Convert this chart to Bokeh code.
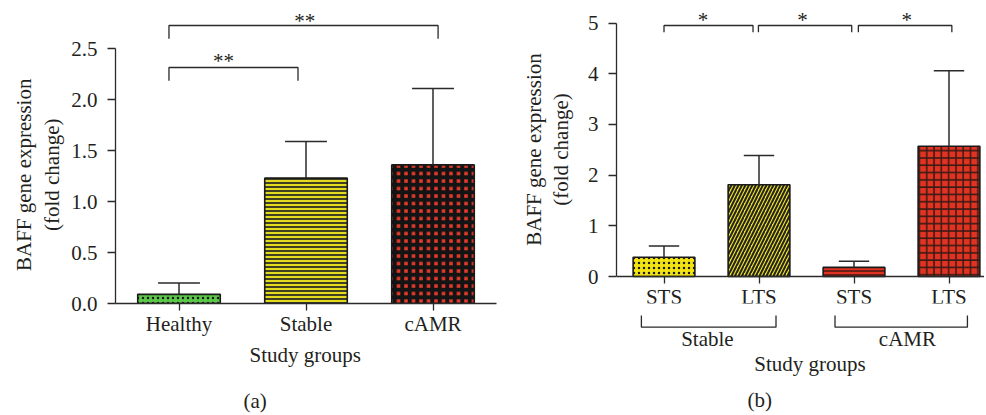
import numpy as np
from bokeh.plotting import figure
from bokeh.models import Range1d, FixedTicker, PrintfTickFormatter
from bokeh.layouts import row
from bokeh.embed import file_html
from bokeh.resources import INLINE
from bokeh.core.properties import value

FONT = "Liberation Serif"
TXT = "#231f20"
AX = "#2a2a2a"

# ---------------- data: panel (a) ----------------
groups_a = ["Healthy", "Stable", "cAMR"]
mean_a = [0.09, 1.23, 1.36]
err_a = [0.11, 0.36, 0.75]
yticks_a = [0.0, 0.5, 1.0, 1.5, 2.0, 2.5]
sig_pairs_a = [(0, 1), (0, 2)]
sig_text_a = ["**", "**"]

# ---------------- data: panel (b) ----------------
sub_b = ["STS", "LTS", "STS", "LTS"]
group_b = ["Stable", "Stable", "cAMR", "cAMR"]
mean_b = [0.38, 1.81, 0.18, 2.57]
err_b = [0.22, 0.58, 0.12, 1.49]
yticks_b = [0, 1, 2, 3, 4, 5]
sig_pairs_b = [(0, 1), (1, 2), (2, 3)]
sig_text_b = ["*", "*", "*"]

# ---------------- styles ----------------
styles_a = [
    dict(fill_color="#5cc84a", hatch_pattern="dot", hatch_color="#1a1a1a", hatch_scale=5, hatch_weight=2),
    dict(fill_color="#e3dc1e", hatch_pattern="horizontal_line", hatch_color="#222222", hatch_scale=4, hatch_weight=1.7),
    dict(fill_color="#e33a2c", hatch_pattern="cross", hatch_color="#141414", hatch_scale=7.5, hatch_weight=4),
]
styles_b = [
    dict(fill_color="#f4e512", hatch_pattern="dot", hatch_color="#1a1a1a", hatch_scale=5, hatch_weight=2),
    dict(fill_color="#f0e21a", hatch_pattern="right_diagonal_line", hatch_color="#222222", hatch_scale=7, hatch_weight=2),
    dict(fill_color="#e03322", hatch_pattern="horizontal_line", hatch_color="#3a1510", hatch_scale=4, hatch_weight=1.4),
    dict(fill_color="#e03322", hatch_pattern="cross", hatch_color="#3a1a15", hatch_scale=7.3, hatch_weight=1.5),
]

FIG_H = 414


def make_fig(width, left, right, x_end, y_start, y_end):
    p = figure(width=width, height=FIG_H, x_range=Range1d(-0.5, x_end), y_range=Range1d(y_start, y_end),
               output_backend="svg", toolbar_location=None,
               min_border_left=left, min_border_right=right, min_border_top=10,
               min_border_bottom=FIG_H - 303)
    p.outline_line_color = None
    p.grid.visible = False
    p.background_fill_color = "white"
    p.border_fill_color = "white"
    return p


def style_axes(p, labels, yticks, fmt):
    n = len(labels)
    for ax in (p.xaxis[0], p.yaxis[0]):
        ax.axis_line_color = AX
        ax.axis_line_width = 1.3
        ax.major_tick_line_color = AX
        ax.major_tick_line_width = 1.3
        ax.minor_tick_line_color = None
        ax.major_tick_in = 0
        ax.major_label_text_font = FONT
        ax.major_label_text_font_size = "21px"
        ax.major_label_text_color = TXT
    p.xaxis.ticker = FixedTicker(ticks=list(range(n)))
    p.xaxis.major_label_overrides = {i: s for i, s in enumerate(labels)}
    p.xaxis.bounds = (-0.5, n - 0.5)
    p.xaxis.major_tick_out = 7
    p.xaxis.major_label_standoff = 1
    p.yaxis.ticker = FixedTicker(ticks=yticks)
    p.yaxis.formatter = PrintfTickFormatter(format=fmt)
    p.yaxis.bounds = (0, yticks[-1])
    p.yaxis.major_tick_out = 8
    p.yaxis.major_label_standoff = 10


def draw_bars(p, means, errs, styles, cap_half):
    xs = list(range(len(means)))
    for x, m, st in zip(xs, means, styles):
        p.vbar(x=[x], top=[m], bottom=0, width=0.65, line_color="#1a1a1a", line_width=1.6, **st)
    tops = [m + e for m, e in zip(means, errs)]
    p.segment(x0=xs, y0=means, x1=xs, y1=tops, line_color=AX, line_width=1.5)
    p.segment(x0=[x - cap_half for x in xs], y0=tops, x1=[x + cap_half for x in xs], y1=tops,
              line_color=AX, line_width=1.5)


def add_text(p, x, y, text, angle=0.0):
    p.text(x=[x], y=[y], text=[text], angle=angle, text_font=value(FONT), text_font_size="21px",
           text_color=TXT, text_align="center", text_baseline="middle", level="overlay")


def add_bracket(p, x0, x1, y_top, y_leg):
    p.multi_line(xs=[[x0, x0, x1, x1]], ys=[[y_leg, y_top, y_top, y_leg]], line_color=AX,
                 line_width=1.3, level="overlay")


# ---------------- panel (a) ----------------
pa = make_fig(506, 115, 10, 2.5, 0, 293 / 101.9)
style_axes(pa, groups_a, yticks_a, "%.1f")
draw_bars(pa, mean_a, err_a, styles_a, 0.165)
for (a, b), t, oa, ob, yt, yl, xx, yy in zip(sig_pairs_a, sig_text_a, [-0.079, -0.079], [-0.063, 0.04],
                                           [2.316, 2.728], [2.185, 2.598], [0.35, 0.99], [2.376, 2.771]):
    add_bracket(pa, a + oa, b + ob, yt, yl)
    add_text(pa, xx, yy, t)
add_text(pa, -1.223, 1.263, "BAFF gene expression", angle=np.pi / 2)
add_text(pa, -1.002, 1.263, "(fold change)", angle=np.pi / 2)
add_text(pa, 0.994, -0.503, "Study groups")
add_text(pa, 0.6, -0.952, "(a)")

# ---------------- panel (b) ----------------
ppu_b = 50.67
y0_b = -(303 - 276) / ppu_b
pb = make_fig(478, 110, 0, -0.5 + 368 / 95, y0_b, y0_b + 293 / ppu_b)
style_axes(pb, sub_b, yticks_b, "%d")
pb.xaxis.fixed_location = 0
draw_bars(pb, mean_b, err_b, styles_b, 0.16)
for (a, b), t, oa, ob, xx in zip(sig_pairs_b, sig_text_b, [0.0, -0.006, 0.046], [-0.063, -0.024, 0.03],
                                 [0.41, 1.457, 2.555]):
    add_bracket(pb, a + oa, b + ob, 4.954, 4.82)
    add_text(pb, xx, 5.06, t)
add_text(pb, -1.372, 2.506, "BAFF gene expression", angle=np.pi / 2)
add_text(pb, -1.087, 2.506, "(fold change)", angle=np.pi / 2)

# group brackets below the axis
grp_names = ["Stable", "cAMR"]
grp_span = [(-0.238, 1.179), (1.8, 3.194)]
grp_lx = [0.457, 2.562]
for name, (gx0, gx1), lx in zip(grp_names, grp_span, grp_lx):
    add_bracket(pb, gx0, gx1, -1.0, -0.77)
    add_text(pb, lx, -1.24, name)
add_text(pb, 1.537, -1.717, "Study groups")
add_text(pb, 1.007, -2.447, "(b)")

layout = row(pa, pb)
open("out.html", "w").write(file_html(layout, INLINE))
